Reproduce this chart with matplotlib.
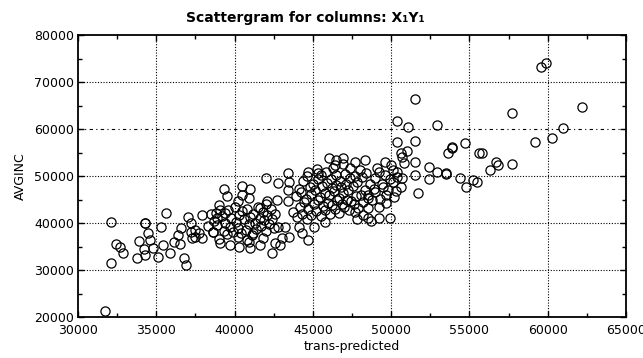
import matplotlib.pyplot as plt
from matplotlib.ticker import MultipleLocator

# sparse points on the left (low predicted values)
left_x = [31700, 32100, 32100, 32400, 32700, 32900, 33800, 33900, 34200, 34300, 34300, 34300,
          34500, 34600, 34800, 35100, 35300, 35400, 35600, 35900, 36100, 36400, 36500, 36800,
          36900, 37000, 37200, 36600, 37200, 37500, 37500, 37300, 37700, 37900, 37900, 38600,
          38800]
left_y = [21300, 40200, 31500, 35500, 34900, 33600, 32500, 36200, 34400, 40000, 40100, 33200,
          37900, 36400, 34700, 32800, 39100, 35300, 42100, 33600, 35900, 37400, 35500, 32500,
          31000, 41300, 40000, 38900, 38100, 38500, 37000, 36800, 37900, 36800, 41700, 38100,
          42100]

# middle band around 39000-46000
mid_x = [39300, 39500, 40500, 40500, 41000, 40900, 42000, 42800, 43400, 43500, 43400, 42700,
         43400, 42100, 41600, 43700, 39100, 39400, 38900, 38600, 39100, 39700, 40200, 40300,
         41000, 40800, 41600, 41200, 42400, 42600, 42900, 43000, 43500, 43200, 42800, 44100,
         44300, 44700, 45100, 45800, 44700, 45300, 46000, 46500, 46900]
mid_y = [47200, 45700, 47900, 46000, 47200, 45300, 49600, 48500, 50600, 48700, 47000, 44900,
         44700, 44700, 43200, 42300, 42800, 42100, 41100, 38100, 35700, 35300, 37000, 34900,
         34700, 36400, 35300, 37900, 33600, 35700, 35300, 36800, 37000, 39100, 39100, 39100,
         37900, 36400, 39100, 40200, 50800, 50600, 53800, 53400, 53800]

# dense cluster near 38500-42600
clusA_x = [38700, 38900, 39000, 39200, 39300, 39400, 39500, 39600, 39700, 39800, 39900, 40000,
           40100, 40200, 40300, 40400, 40500, 40600, 40700, 40800, 40900, 41000, 41100, 41200,
           41300, 41400, 41500, 41600, 41700, 41800, 41900, 42000, 42100, 42200, 42300, 42400,
           42500, 42600, 40200, 39000, 41800, 40900, 42000, 38500, 38300]
clusA_y = [40500, 39600, 43800, 41500, 38400, 40000, 37600, 42700, 39200, 41000, 38000, 43500,
           40300, 39000, 41800, 37800, 42500, 40800, 38500, 43000, 39700, 41300, 37400, 42000,
           40000, 38800, 43300, 41000, 39400, 42400, 40600, 38200, 41700, 39800, 43000, 40900,
           38900, 42000, 44600, 36600, 36900, 36000, 44100, 42000, 39300]

# densest cluster 44000-48500
clusB_x = [44000, 44150, 43900, 44100,
           44300, 44450, 44250, 44400,
           44600, 44700, 44550, 44800, 44650,
           44900, 45050, 44850, 45000,
           45200, 45350, 45150, 45300, 45250,
           45500, 45650, 45450, 45600, 45550,
           45800, 45950, 45750, 45900, 45850,
           46100, 46250, 46000, 46200, 46150, 46300,
           46400, 46550, 46350, 46500, 46450,
           46700, 46850, 46650, 46800, 46750, 46900,
           47000, 47150, 46950, 47100, 47050,
           47300, 47450, 47250, 47400, 47350,
           47600, 47750, 47550, 47700,
           47900, 48050, 47850, 48000,
           48200, 48350, 48150,
           48500, 48650, 48400]
clusB_y = [41200, 43500, 45800, 47300,
           42000, 44400, 46500, 48900,
           40800, 43000, 45200, 47700, 50000,
           41800, 44000, 46200, 48300,
           42500, 44800, 47000, 49400, 51500,
           41500, 43600, 45600, 47800, 50200,
           42800, 44300, 46400, 48600, 50800,
           41900, 43900, 45900, 47400, 49300, 51700,
           43000, 44800, 46800, 48100, 50300,
           42200, 44100, 45400, 47600, 49000, 52500,
           43400, 45000, 46300, 48400, 50500,
           42800, 44600, 47100, 49600, 51800,
           44000, 45800, 47900, 50100,
           43200, 46000, 48800, 51200,
           44500, 47000, 49700,
           45300, 48200, 50700]

# cluster 48500-50700
clusC_x = [48800, 48900, 49000, 49100, 49300, 49400, 49600, 49700, 49800, 50000, 50100, 50300,
           50400, 50600, 50700, 49900, 48700]
clusC_y = [44800, 47300, 49500, 51800, 45200, 48300, 50300, 44300, 47000, 52300, 48700, 46800,
           50900, 47700, 49500, 41000, 40500]

# right-middle region 46000-56000
rmid_x = [51500, 50400, 51100, 52900, 50400, 51500, 50600, 51000, 50700, 53600, 53900, 54700,
          55600, 52400, 52900, 53500, 52400, 51500, 51700, 54400, 54800, 55200, 55500, 51500,
          50800, 50100, 49600, 49200, 50400, 49900, 50200, 49700, 49200, 49200, 48500, 48200,
          47800, 48500, 48500, 47700, 49000, 49500, 47700, 48300, 46400]
rmid_y = [66400, 61700, 60400, 60800, 57200, 57400, 54900, 55300, 54000, 54900, 56000, 57000,
          54900, 51900, 50800, 50400, 49400, 50200, 46400, 49600, 47700, 49100, 48700, 53000,
          52800, 51300, 53000, 50800, 49800, 49400, 45500, 46000, 43400, 41100, 41100, 41700,
          40800, 43200, 46000, 42300, 46600, 47700, 53000, 53400, 52300]

# sparse points on the right
right_x = [59600, 59900, 62200, 57700, 61000, 60300, 59200, 53900, 55800, 56700, 56800, 56300,
           57700, 53500]
right_y = [73200, 74000, 64700, 63400, 60200, 58100, 57200, 56200, 54900, 53000, 52300, 51300,
           52500, 50600]

xs = left_x + mid_x + clusA_x + clusB_x + clusC_x + rmid_x + right_x
ys = left_y + mid_y + clusA_y + clusB_y + clusC_y + rmid_y + right_y

plt.rcParams['font.family'] = ['DejaVu Sans']

fig = plt.figure(figsize=(6.43, 3.58), dpi=100)
ax = fig.add_axes([78 / 643, 1 - 317 / 358, 548 / 643, 282 / 358])

ax.plot(xs, ys, linestyle='none', marker='o', markersize=6.6,
        markerfacecolor='none', markeredgecolor='black', markeredgewidth=0.9)

ax.set_xlim(30000, 65000)
ax.set_ylim(20000, 80000)
ax.xaxis.set_major_locator(MultipleLocator(5000))
ax.xaxis.set_minor_locator(MultipleLocator(2500))
ax.yaxis.set_major_locator(MultipleLocator(10000))
ax.yaxis.set_minor_locator(MultipleLocator(5000))

# dotted grid, the 60000 line drawn dash-dot as in the original
for gx in range(35000, 65000, 5000):
    ax.axvline(gx, color='black', linestyle=(0, (1, 1.5)), linewidth=0.8, zorder=0)
for gy in range(30000, 80000, 10000):
    if gy == 60000:
        ax.axhline(gy, color='black', linestyle=(0, (3, 3, 1, 3)), linewidth=0.8, zorder=0)
    else:
        ax.axhline(gy, color='black', linestyle=(0, (1, 1.5)), linewidth=0.8, zorder=0)

for side in ax.spines.values():
    side.set_linewidth(1.3)

ax.tick_params(which='both', direction='in', top=True, right=True, width=1, labelsize=9,
               colors='black')
ax.tick_params(which='major', length=4)
ax.tick_params(which='minor', length=3)
ax.tick_params(axis='x', which='major', pad=5)
ax.tick_params(axis='y', which='major', pad=3)

ax.set_xlabel('trans-predicted', fontsize=9, labelpad=2)
ax.set_ylabel('AVGINC', fontsize=9, labelpad=5)
fig.text(305 / 643, 1 - 18 / 358, 'Scattergram for columns: X\u2081Y\u2081',
         ha='center', va='center', fontsize=10, fontweight='bold')

fig.savefig('out.png', dpi=100)
